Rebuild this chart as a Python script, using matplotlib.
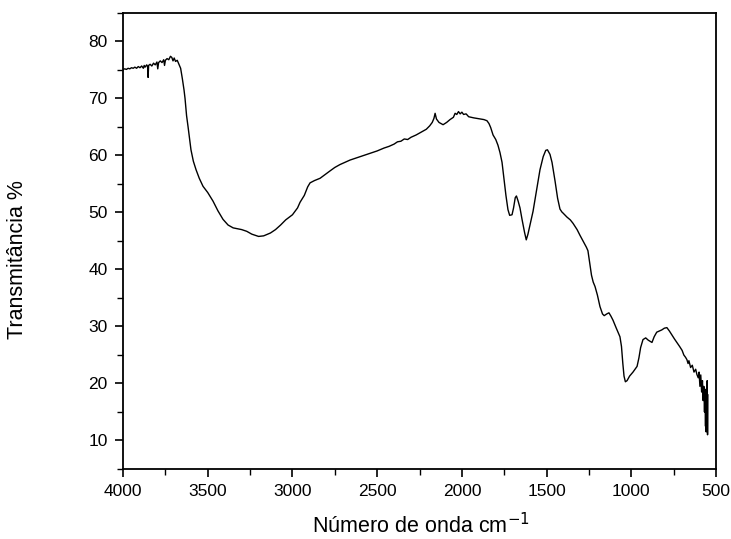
import matplotlib
matplotlib.use("Agg")
import matplotlib.pyplot as plt
from matplotlib.ticker import MultipleLocator

plt.rcParams['font.family'] = ['Liberation Sans', 'DejaVu Sans']

wavenumber = [
    4000, 3990, 3980, 3970, 3960, 3950, 3940, 3930, 3920, 3910, 3900, 3890, 3880, 3875, 3870,
    3860, 3855, 3852, 3849, 3840, 3830, 3820, 3810, 3800, 3795, 3790, 3780, 3770, 3760, 3755,
    3750, 3740, 3730, 3720, 3712, 3705, 3698, 3690, 3680, 3670, 3660, 3650, 3640, 3634, 3625,
    3616, 3599, 3585, 3569, 3550, 3528, 3500, 3469, 3440, 3410, 3380, 3350, 3300, 3270, 3240,
    3200, 3170, 3130, 3100, 3070, 3040, 3000, 2970, 2955, 2930, 2910, 2896, 2870, 2837, 2810,
    2778, 2750, 2720, 2690, 2660, 2620, 2580, 2540, 2500, 2460, 2430, 2400, 2380, 2360, 2340,
    2320, 2300, 2270, 2240, 2210, 2190, 2175, 2165, 2158, 2150, 2135, 2111, 2090, 2070, 2050,
    2040, 2030, 2020, 2010, 2000, 1990, 1975, 1960, 1945, 1930, 1910, 1893, 1870, 1852, 1840,
    1830, 1816, 1800, 1787, 1775, 1763, 1750, 1740, 1728, 1718, 1704, 1695, 1685, 1678, 1668,
    1657, 1645, 1630, 1620, 1610, 1595, 1580, 1560, 1539, 1520, 1505, 1495, 1480, 1468, 1450,
    1435, 1421, 1410, 1403, 1380, 1360, 1344, 1320, 1303, 1285, 1265, 1256, 1245, 1235, 1225,
    1214, 1200, 1185, 1170, 1160, 1145, 1132, 1120, 1108, 1090, 1067, 1058, 1050, 1043, 1035,
    1025, 1010, 990, 966, 955, 945, 931, 915, 900, 878, 865, 850, 835, 820, 805,
    790, 775, 760, 745, 731, 715, 700, 690, 680, 672, 665, 660, 650, 640, 630,
    620, 613, 605, 600, 595, 590, 585, 580, 576, 572, 568, 565, 562, 560, 558,
    556, 554, 552, 550, 548,
]
transmittance = [
    75.1, 75.2, 75.1, 75.3, 75.2, 75.4, 75.3, 75.5, 75.3, 75.6, 75.4, 75.7, 75.3, 75.8, 75.5,
    75.9, 75.6, 73.7, 75.8, 76.0, 75.7, 76.2, 75.9, 76.4, 75.2, 76.3, 76.6, 76.3, 76.8, 75.8,
    76.7, 77.0, 76.8, 77.4, 77.2, 76.6, 77.1, 76.5, 76.7, 76.0, 75.3, 73.5, 71.5, 70.0, 67.0,
    65.0, 61.0, 59.0, 57.5, 56.0, 54.6, 53.5, 52.0, 50.3, 48.8, 47.8, 47.3, 47.0, 46.7, 46.2,
    45.8, 45.9, 46.4, 47.0, 47.8, 48.7, 49.6, 50.8, 51.8, 53.0, 54.5, 55.2, 55.6, 56.0, 56.6,
    57.3, 57.9, 58.4, 58.8, 59.2, 59.6, 60.0, 60.4, 60.8, 61.3, 61.6, 62.0, 62.4, 62.5, 62.9,
    62.8, 63.2, 63.6, 64.1, 64.6, 65.2, 65.8, 66.5, 67.4, 66.4, 65.8, 65.4, 65.8, 66.3, 66.7,
    67.4, 67.2, 67.7, 67.3, 67.6, 67.2, 67.3, 66.8, 66.7, 66.6, 66.5, 66.4, 66.3, 66.1, 65.6,
    64.9, 63.6, 62.8, 61.8, 60.5, 58.8, 55.5, 53.0, 50.5, 49.5, 49.6, 50.8, 52.6, 52.9, 52.0,
    50.8, 48.8, 46.5, 45.2, 46.2, 48.2, 50.2, 53.8, 57.5, 59.8, 60.9, 61.0, 60.2, 58.8, 55.5,
    52.5, 50.6, 50.1, 49.9, 49.2, 48.7, 48.1, 47.0, 46.0, 45.0, 43.9, 43.3, 41.0, 39.0, 37.8,
    37.0, 35.5, 33.5, 32.2, 31.9, 32.2, 32.4, 31.8, 31.1, 29.8, 28.2, 26.5, 23.5, 21.3, 20.3,
    20.5, 21.3, 22.0, 23.0, 24.5, 26.3, 27.7, 28.0, 27.6, 27.2, 28.2, 29.0, 29.2, 29.4, 29.7,
    29.8, 29.2, 28.5, 27.8, 27.2, 26.5, 25.8, 25.0, 24.6, 24.2, 23.5, 24.0, 22.8, 23.2, 22.0,
    22.5, 21.6, 21.0, 22.0, 19.5, 21.5, 18.5, 20.5, 17.0, 19.5, 15.0, 19.0, 12.5, 18.5, 11.5,
    17.5, 13.0, 20.5, 11.0, 18.0,
]

x_ticks = [4000, 3500, 3000, 2500, 2000, 1500, 1000, 500]
y_ticks = [10, 20, 30, 40, 50, 60, 70, 80]

fig = plt.figure(figsize=(7.31, 5.39), dpi=100)
ax = fig.add_axes([0.1683, 0.1299, 0.8112, 0.8460])
ax.plot(wavenumber, transmittance, color='black', linewidth=1.0)

ax.set_xlim(4000, 500)
ax.set_ylim(5, 85)
ax.set_xticks(x_ticks)
ax.set_yticks(y_ticks)
ax.xaxis.set_minor_locator(MultipleLocator(250))
ax.yaxis.set_minor_locator(MultipleLocator(5))

for s in ax.spines.values():
    s.set_linewidth(1.3)

ax.tick_params(axis='both', which='major', direction='out', length=6, width=1.2,
               labelsize=12.5, pad=5, top=False, right=False)
ax.tick_params(axis='both', which='minor', direction='out', length=4, width=1.0,
               top=False, right=False)

fig.text(421 / 731, 1 - 533.5 / 539, 'Número de onda cm$^{-1}$', fontsize=15.5,
         ha='center', va='baseline')
fig.text(18 / 731, 1 - 260 / 539, 'Transmitância %', fontsize=15.5,
         ha='center', va='center', rotation=90)

fig.savefig('out.png', dpi=100)
